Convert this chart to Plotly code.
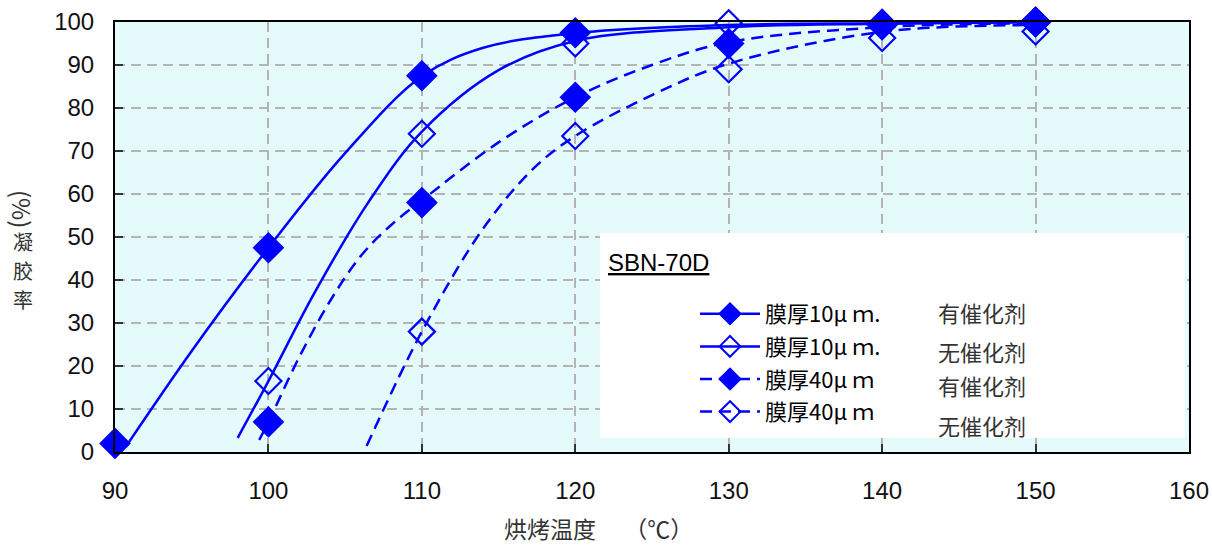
import plotly.graph_objects as go

# ---------------- data ----------------
temps = [90, 100, 110, 120, 130, 140, 150]

# measured points (None = no point)
s1_pts = [2, 47.5, 87.5, 97.5, None, 99.5, 100]      # 10um, catalyst (filled)
s2_pts = [None, 16.5, 74, 95, 99.7, 99.5, 100]       # 10um, no catalyst (open)
s3_pts = [None, 7, 58, 82.5, 95, 99.3, 100]          # 40um, catalyst (filled)
s4_pts = [None, None, 28, 73.5, 89, 96.3, 97.8]      # 40um, no catalyst (open)

# fitted curves drawn in the picture
c1_x = [90.7, 95, 100, 105, 110, 114, 120, 130, 140, 150]
c1_y = [1.2, 23.5, 47.5, 69.5, 87.4, 94, 97.4, 99.3, 99.7, 100]

c2_x = [98.0, 100, 103, 106.5, 110, 115, 120, 130, 140, 150]
c2_y = [3.3, 16.5, 37, 58, 74.5, 88.8, 95.6, 98.8, 99.6, 100]

c3_x = [99.4, 100, 102, 104, 106, 108, 110, 115, 120, 125, 130, 140, 150]
c3_y = [2.8, 7, 22, 35, 45.5, 52.8, 58.5, 72, 82.5, 90, 95.3, 98.8, 99.7]

c4_x = [106.4, 110, 114, 117.3, 120, 125, 130, 140, 150]
c4_y = [1.4, 28, 52, 66, 73.5, 83, 90.3, 97.7, 99.3]

series_names = ["膜厚10μ ｍ.", "膜厚10μ ｍ.", "膜厚40μ ｍ", "膜厚40μ ｍ"]
series_notes = ["有催化剂", "无催化剂", "有催化剂", "无催化剂"]
chart_label = "SBN-70D"
x_title = "烘烤温度　 （℃）"
y_title_chars = ["凝", "胶", "率"]
y_title_unit = "(%)"
x_ticks = [90, 100, 110, 120, 130, 140, 150, 160]
y_ticks = [0, 10, 20, 30, 40, 50, 60, 70, 80, 90, 100]

# ---------------- styling ----------------
BLUE = "#0000ff"
W, H = 1212, 545
ML, MR, MT, MB = 115, 23, 22, 93
PW, PH = W - ML - MR, H - MT - MB

def px(xp):
    return (xp - ML) / PW

def py(yp):
    return (H - MB - yp) / PH

TICK_FONT = dict(family="Liberation Sans, Arial, sans-serif", size=24, color="#111")
CJK = "Noto Sans CJK SC, Noto Sans CJK JP, sans-serif"

fig = go.Figure()

curves = [(c1_x, c1_y, "solid"), (c2_x, c2_y, "solid"), (c3_x, c3_y, "12px,7px"), (c4_x, c4_y, "12px,7px")]
points = [s1_pts, s2_pts, s3_pts, s4_pts]
symbols = ["diamond", "diamond-open", "diamond", "diamond-open"]
sizes = [22, 20, 22, 20]

for (cx, cy, dash) in curves:
    fig.add_trace(go.Scatter(x=cx, y=cy, mode="lines", line=dict(color=BLUE, width=2.5, dash=dash, shape="spline", smoothing=1.0),
                             showlegend=False, hoverinfo="skip"))

for pts, sym, sz in zip(points, symbols, sizes):
    fig.add_trace(go.Scatter(x=temps, y=pts, mode="markers", cliponaxis=False,
                             marker=dict(symbol=sym, size=sz, color=BLUE, line=dict(color=BLUE, width=2.2)),
                             showlegend=False))

# legend entries
for i, (name, (cx, cy, dash), sym) in enumerate(zip(series_names, curves, symbols)):
    fig.add_trace(go.Scatter(x=[None], y=[None], mode="lines+markers", name=name, legendgroup=f"g{i}",
                             line=dict(color=BLUE, width=2.5, dash=dash),
                             marker=dict(symbol=sym, size=16, color=BLUE, line=dict(color=BLUE, width=2))))

axis_common = dict(showline=True, linecolor="black", linewidth=2, mirror=True,
                   ticks="inside", ticklen=8, tickcolor="#333", tickwidth=1.5,
                   showgrid=True, gridcolor="#b4b4b4", gridwidth=1.5, griddash="10px,6px",
                   zeroline=False, tickfont=TICK_FONT, automargin=False)

fig.update_xaxes(range=[90, 160], tickvals=x_ticks, ticklabelstandoff=16, **axis_common)
fig.update_yaxes(range=[0, 100], tickvals=y_ticks, ticklabelstandoff=14, **axis_common)

annotations = [
    dict(x=px(658), y=py(262), text=f"<u>{chart_label}</u>", font=dict(family=TICK_FONT["family"], size=24, color="black")),
    dict(x=px(598), y=py(528), text=x_title, font=dict(family=CJK, size=23, color="#333")),
    dict(x=px(23), y=py(209), text=y_title_unit, textangle=90, font=dict(family=CJK, size=24, color="#333")),
]
for ch, yy in zip(y_title_chars, [241, 270, 299]):
    annotations.append(dict(x=px(23), y=py(yy), text=ch, font=dict(family=CJK, size=20, color="#333")))
note_y = [312, 351, 385, 425]
for note, yy in zip(series_notes, note_y):
    annotations.append(dict(x=px(982), y=py(yy), text=note, font=dict(family=CJK, size=22, color="#333")))

for a in annotations:
    a.update(xref="paper", yref="paper", showarrow=False, xanchor="center", yanchor="middle")

fig.update_layout(
    width=W, height=H,
    margin=dict(l=ML, r=MR, t=MT, b=MB, pad=0, autoexpand=False),
    paper_bgcolor="white",
    plot_bgcolor="#e5fbfb",
    annotations=annotations,
    shapes=[dict(type="rect", xref="paper", yref="paper", x0=px(600), x1=px(1185), y0=py(438), y1=py(233),
                 fillcolor="white", line=dict(width=0), layer="above")],
    legend=dict(x=px(695), y=py(293), xanchor="left", yanchor="top", bgcolor="rgba(0,0,0,0)",
                font=dict(family=CJK, size=22, color="black"), tracegroupgap=1, itemwidth=60,
                traceorder="grouped"),
    showlegend=True,
)

fig.write_html("out.html", config={"displayModeBar": False},
               post_script="document.body.style.margin='0';document.body.style.overflow='hidden';")
